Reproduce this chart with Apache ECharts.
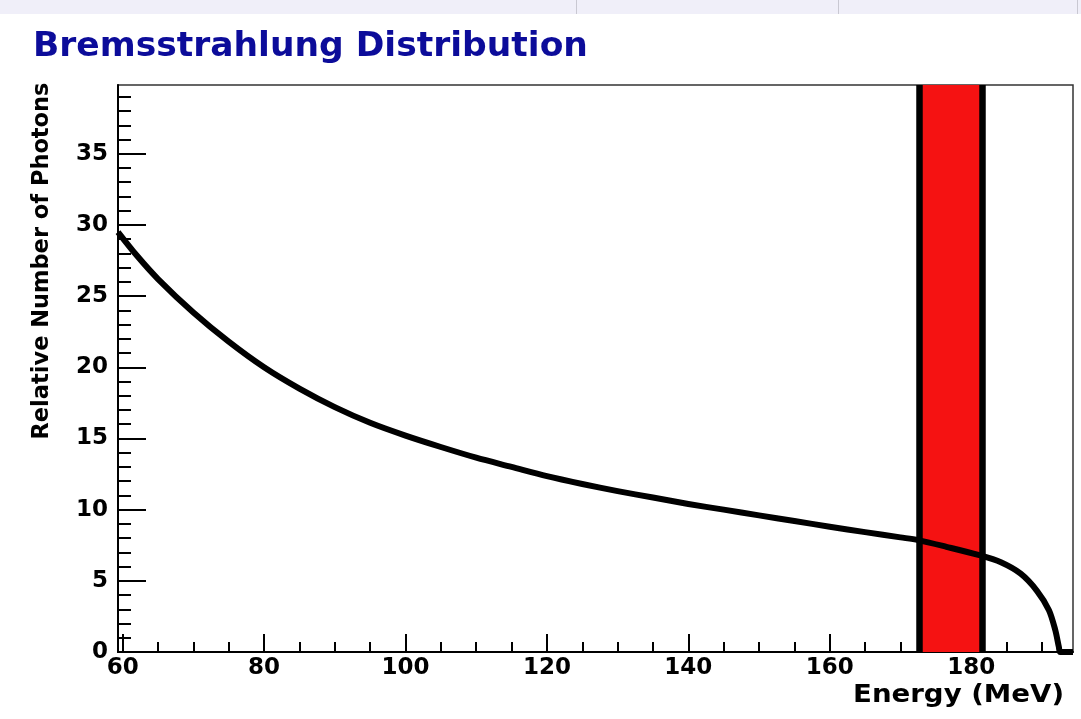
<!DOCTYPE html>
<html>
<head>
<meta charset="utf-8">
<script src="https://cdn.jsdelivr.net/npm/echarts@6/dist/echarts.min.js"></script>
<style>
html,body{margin:0;padding:0;background:#fff;}
#c{width:1081px;height:719px;}
</style>
</head>
<body>
<div id="c"></div>
<script>
// ---- data ----
const energy = [59.34, 62, 65, 70, 75, 80, 85, 90, 95, 100, 105, 110, 115, 120, 125, 130, 135, 140, 145, 150, 155, 160, 165, 170, 172.5, 176.5, 181.3, 184.2, 187.0, 189.3, 191.0, 191.9, 192.4, 192.6, 194.4];
const photons = [29.5, 27.85, 26.2, 23.85, 21.8, 20.0, 18.5, 17.2, 16.1, 15.2, 14.4, 13.65, 13.0, 12.35, 11.8, 11.3, 10.85, 10.4, 10.0, 9.6, 9.2, 8.8, 8.42, 8.05, 7.86, 7.39, 6.78, 6.3, 5.5, 4.3, 2.94, 1.53, 0.36, 0.0, 0.0];
const band = [172.67, 181.58];
const xRange = [59.34, 194.4];
const yRange = [0, 39.83];
const xMajor = [60, 80, 100, 120, 140, 160, 180];
const xMinor = [65, 70, 75, 85, 90, 95, 105, 110, 115, 125, 130, 135, 145, 150, 155, 165, 170, 175, 185, 190];
const yMajor = [0, 5, 10, 15, 20, 25, 30, 35];
const yMinor = [1,2,3,4,6,7,8,9,11,12,13,14,16,17,18,19,21,22,23,24,26,27,28,29,31,32,33,34,36,37,38,39];

const titleText = 'Bremsstrahlung Distribution';
const xTitle = 'Energy (MeV)';
const yTitle = 'Relative Number of Photons';

const FONT = 'DejaVu Sans';
const chart = echarts.init(document.getElementById('c'), null, {renderer: 'canvas'});

const labelStyle = {show: true, color: '#000', fontFamily: FONT, fontWeight: 'bold', fontSize: 23};

chart.setOption({
  animation: false,
  backgroundColor: '#fff',
  title: {
    text: titleText, left: 28, top: 25,
    textStyle: {color: '#0c0c9a', fontFamily: FONT, fontWeight: 'bold', fontSize: 34.5}
  },
  graphic: [
    {type: 'rect', left: 0, top: 0, shape: {width: 1081, height: 14}, style: {fill: '#f0eff9'}, silent: true},
    {type: 'rect', left: 576, top: 0, shape: {width: 1, height: 14}, style: {fill: '#c9c8d2'}, silent: true},
    {type: 'rect', left: 838, top: 0, shape: {width: 1, height: 14}, style: {fill: '#c9c8d2'}, silent: true},
    {type: 'rect', left: 1077, top: 0, shape: {width: 1, height: 14}, style: {fill: '#c9c8d2'}, silent: true},
    {type: 'text', x: 42, y: 261, rotation: Math.PI / 2,
      style: {text: yTitle, fill: '#000', font: 'bold 22.5px "DejaVu Sans"', align: 'center', verticalAlign: 'middle'}, silent: true},
    {type: 'text', x: 1064, y: 696, scaleX: 1.15,
      style: {text: xTitle, fill: '#000', font: 'bold 24px "DejaVu Sans"', align: 'right', verticalAlign: 'middle'}, silent: true}
  ],
  grid: {left: 118, right: 8, top: 85, bottom: 67, show: true, borderColor: '#333', borderWidth: 1.5, backgroundColor: 'transparent'},
  xAxis: [
    {type: 'value', min: xRange[0], max: xRange[1], position: 'bottom',
      axisLine: {show: true, onZero: false, lineStyle: {color: '#000', width: 2}},
      axisTick: {show: true, inside: true, length: 18, customValues: xMajor, lineStyle: {color: '#000', width: 2}},
      axisLabel: Object.assign({}, labelStyle, {customValues: xMajor, margin: 5}),
      splitLine: {show: false}, minorTick: {show: false}},
    {type: 'value', min: xRange[0], max: xRange[1], position: 'bottom', offset: 0,
      axisLine: {show: false},
      axisTick: {show: true, inside: true, length: 10, customValues: xMinor, lineStyle: {color: '#000', width: 2}},
      axisLabel: {show: false}, splitLine: {show: false}}
  ],
  yAxis: [
    {type: 'value', min: yRange[0], max: yRange[1], position: 'left',
      axisLine: {show: true, onZero: false, lineStyle: {color: '#000', width: 2}},
      axisTick: {show: true, inside: true, length: 28, customValues: yMajor, lineStyle: {color: '#000', width: 2}},
      axisLabel: Object.assign({}, labelStyle, {customValues: yMajor, margin: 10}),
      splitLine: {show: false}, minorTick: {show: false}},
    {type: 'value', min: yRange[0], max: yRange[1], position: 'left', offset: 0,
      axisLine: {show: false},
      axisTick: {show: true, inside: true, length: 13, customValues: yMinor, lineStyle: {color: '#000', width: 2}},
      axisLabel: {show: false}, splitLine: {show: false}}
  ],
  series: [
    {
      type: 'line', xAxisIndex: 0, yAxisIndex: 0,
      data: energy.map((e, i) => [e, photons[i]]),
      showSymbol: false, symbol: 'none',
      smooth: 0.3,
      clip: true,
      lineStyle: {color: '#000', width: 6, join: 'round'},
      z: 5,
      markArea: {
        silent: true,
        itemStyle: {color: '#f51212'},
        data: [[{xAxis: band[0]}, {xAxis: band[1]}]]
      },
      markLine: {
        silent: true, symbol: 'none', label: {show: false},
        lineStyle: {color: '#000', width: 6.5, type: 'solid'},
        data: [{xAxis: band[0]}, {xAxis: band[1]}]
      }
    }
  ]
});
</script>
</body>
</html>
